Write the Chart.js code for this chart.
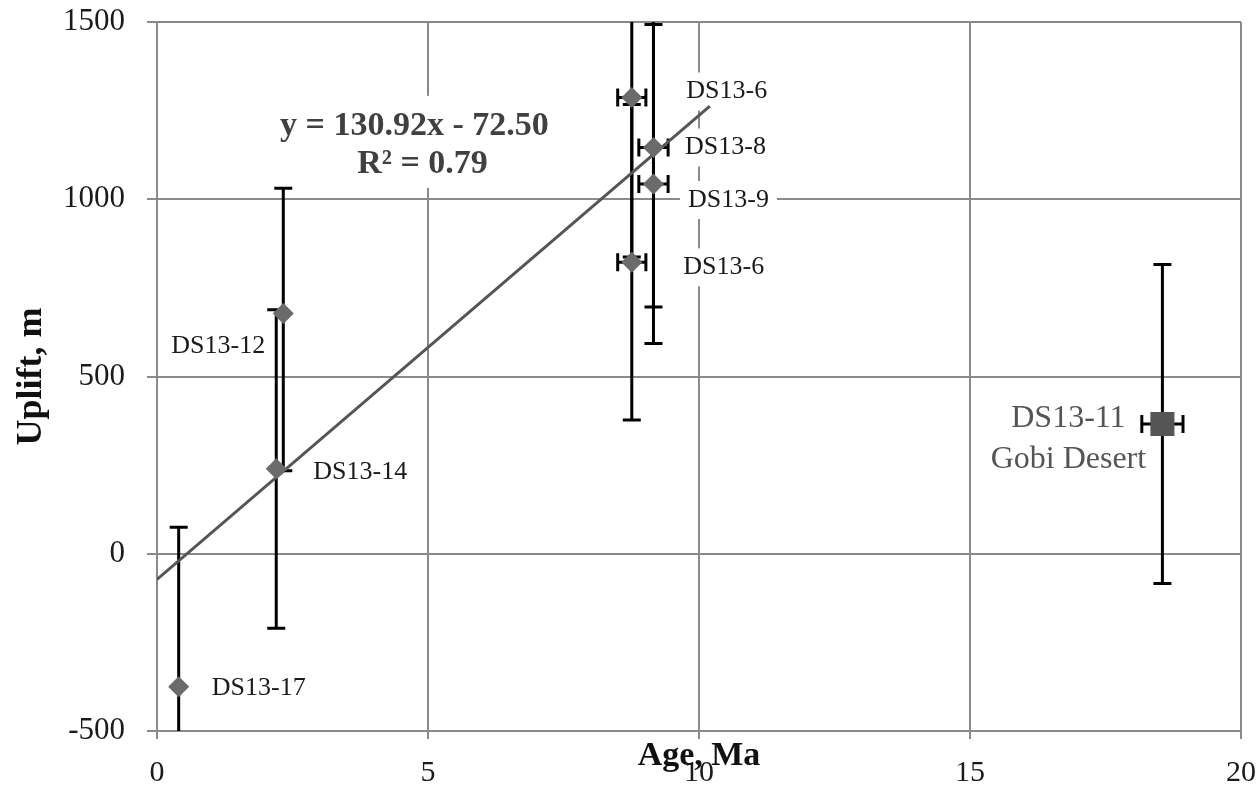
<!DOCTYPE html>
<html>
<head>
<meta charset="utf-8">
<script src="https://cdn.jsdelivr.net/npm/chart.js@4.4.1/dist/chart.umd.min.js"></script>
<style>
  html, body { margin: 0; padding: 0; background: #fff; }
  #wrap { width: 1260px; height: 786px; }
</style>
</head>
<body>
<div id="wrap"><canvas id="graficoUplift" width="1260" height="786"></canvas></div>
<script>
// amostras: idade (Ma) e soerguimento (m)
const sampleNames = ['DS13-17', 'DS13-14', 'DS13-12', 'DS13-6', 'DS13-8', 'DS13-9', 'DS13-6', 'DS13-11'];
const ages = [0.4, 2.2, 2.33, 8.76, 9.16, 9.16, 8.76, 18.55];
const uplift = [-375, 240, 678, 1287, 1146, 1043, 822, 366];
const upliftErrUp = [450, 448, 353, 450, 450, 450, 445, 450];
const upliftErrDown = [450, 450, 444, 450, 450, 450, 445, 450];
const ageErr = [0, 0, 0, 0.26, 0.27, 0.27, 0.26, 0.38];

// linha de tendência (extremos)
const trendAges = [0, 10.2];
const trendUplift = [-72.5, 1263];
const equationLines = ['y = 130.92x - 72.50', 'R² = 0.79'];

const xTicks = [0, 5, 10, 15, 20];
const yTicks = [-500, 0, 500, 1000, 1500];

// rótulos: texto e deslocamento em px a partir do ponto
const labelLines = [['DS13-17'], ['DS13-14'], ['DS13-12'], ['DS13-6'], ['DS13-8'], ['DS13-9'], ['DS13-6'], ['DS13-11', 'Gobi Desert']];
const labelOffsets = [[80, 1], [84, 4], [-65, 33], [95, -6], [72, 0], [75, 16], [92, 5], [-94, -5]];

const SERIF = "'Liberation Serif', 'DejaVu Serif', serif";
const GRID = '#8a8a8a';

const gobiIndex = 7;
const diamondPts = [];
for (let i = 0; i < ages.length; i++) {
  if (i !== gobiIndex) diamondPts.push({ x: ages[i], y: uplift[i] });
}
const gobiPts = [{ x: ages[gobiIndex], y: uplift[gobiIndex] }];
const trendPts = trendAges.map((a, i) => ({ x: a, y: trendUplift[i] }));

const anotacoes = {
  id: 'anotacoes',
  beforeDatasetsDraw(chart) {
    const { ctx, chartArea, scales: { x, y } } = chart;
    ctx.save();

    // rótulos das amostras com fundo branco
    ctx.textAlign = 'center';
    ctx.textBaseline = 'middle';
    labelLines.forEach((lines, i) => {
      const px = x.getPixelForValue(ages[i]) + labelOffsets[i][0];
      const py = y.getPixelForValue(uplift[i]) + labelOffsets[i][1];
      const big = lines.length > 1;
      ctx.font = (big ? '32px ' : '26px ') + SERIF;
      const lh = big ? 41 : 30;
      lines.forEach((t, k) => {
        const w = ctx.measureText(t).width;
        ctx.fillStyle = '#fff';
        ctx.fillRect(px - w / 2 - 8, py + k * lh - 19, w + 16, 38);
        ctx.fillStyle = big ? '#555' : '#1a1a1a';
        ctx.fillText(t, px, py + k * lh);
      });
    });

    // equação da tendência
    const ex = x.getPixelForValue(4.75);
    const ey = y.getPixelForValue(1207);
    ctx.font = 'bold 34px ' + SERIF;
    ctx.fillStyle = '#fff';
    ctx.fillRect(ex - 145, ey - 30, 290, 92);
    ctx.fillStyle = '#404040';
    ctx.fillText(equationLines[0], ex, ey);
    ctx.fillText(equationLines[1], ex + 8, ey + 38);

    // barras de erro
    ctx.beginPath();
    ctx.rect(chartArea.left, chartArea.top, chartArea.width, chartArea.height);
    ctx.clip();
    ctx.strokeStyle = '#000';
    ctx.lineWidth = 3;
    const cap = 9;
    ages.forEach((a, i) => {
      const px = x.getPixelForValue(a);
      const py = y.getPixelForValue(uplift[i]);
      const top = y.getPixelForValue(uplift[i] + upliftErrUp[i]);
      const bot = y.getPixelForValue(uplift[i] - upliftErrDown[i]);
      ctx.beginPath();
      ctx.moveTo(px, top); ctx.lineTo(px, bot);
      ctx.moveTo(px - cap, top); ctx.lineTo(px + cap, top);
      ctx.moveTo(px - cap, bot); ctx.lineTo(px + cap, bot);
      if (ageErr[i] > 0) {
        const l = x.getPixelForValue(a - ageErr[i]);
        const r = x.getPixelForValue(a + ageErr[i]);
        ctx.moveTo(l, py); ctx.lineTo(r, py);
        ctx.moveTo(l, py - cap); ctx.lineTo(l, py + cap);
        ctx.moveTo(r, py - cap); ctx.lineTo(r, py + cap);
      }
      ctx.stroke();
    });
    ctx.restore();
  }
};

const ctx = document.getElementById('graficoUplift').getContext('2d');

new Chart(ctx, {
  type: 'scatter',
  data: {
    datasets: [{
      label: 'Amostras',
      data: diamondPts,
      pointStyle: 'rectRot',
      pointRadius: 10.5,
      pointBackgroundColor: '#6b6b6b',
      pointBorderWidth: 0
    }, {
      label: 'Gobi',
      data: gobiPts,
      pointStyle: 'rect',
      pointRadius: 17,
      pointBackgroundColor: '#555',
      pointBorderWidth: 0
    }, {
      label: 'Tendência',
      data: trendPts,
      showLine: true,
      borderColor: '#555',
      borderWidth: 3,
      pointRadius: 0
    }]
  },
  options: {
    responsive: false,
    animation: false,
    layout: { padding: { top: 22, right: 19, left: 0, bottom: 0 } },
    plugins: {
      legend: { display: false },
      tooltip: { enabled: false }
    },
    scales: {
      x: {
        type: 'linear',
        min: 0,
        max: 20,
        afterBuildTicks: s => { s.ticks = xTicks.map(v => ({ value: v })); },
        afterFit: s => { s.height = 55; s.paddingLeft = 0; s.paddingRight = 0; },
        ticks: { font: { family: SERIF, size: 30 }, color: '#1a1a1a', padding: 16, callback: v => String(v) },
        grid: { color: GRID, lineWidth: 2, tickLength: 8 },
        border: { color: GRID, width: 2 },
        title: {
          display: true,
          text: 'Age, Ma',
          font: { family: SERIF, size: 34, weight: 'bold' },
          color: '#111',
          padding: { top: 0, bottom: 9 }
        }
      },
      y: {
        type: 'linear',
        min: -500,
        max: 1500,
        afterBuildTicks: s => { s.ticks = yTicks.map(v => ({ value: v })); },
        afterFit: s => { s.width = 157; s.paddingTop = 0; s.paddingBottom = 0; },
        ticks: { font: { family: SERIF, size: 31 }, color: '#1a1a1a', padding: 22, callback: v => String(v) },
        grid: { color: GRID, lineWidth: 2, tickLength: 10 },
        border: { color: GRID, width: 2 },
        title: {
          display: true,
          text: 'Uplift, m',
          font: { family: SERIF, size: 36, weight: 'bold' },
          color: '#111',
          padding: { top: 10, bottom: 0 }
        }
      }
    }
  },
  plugins: [anotacoes]
});
</script>
</body>
</html>
